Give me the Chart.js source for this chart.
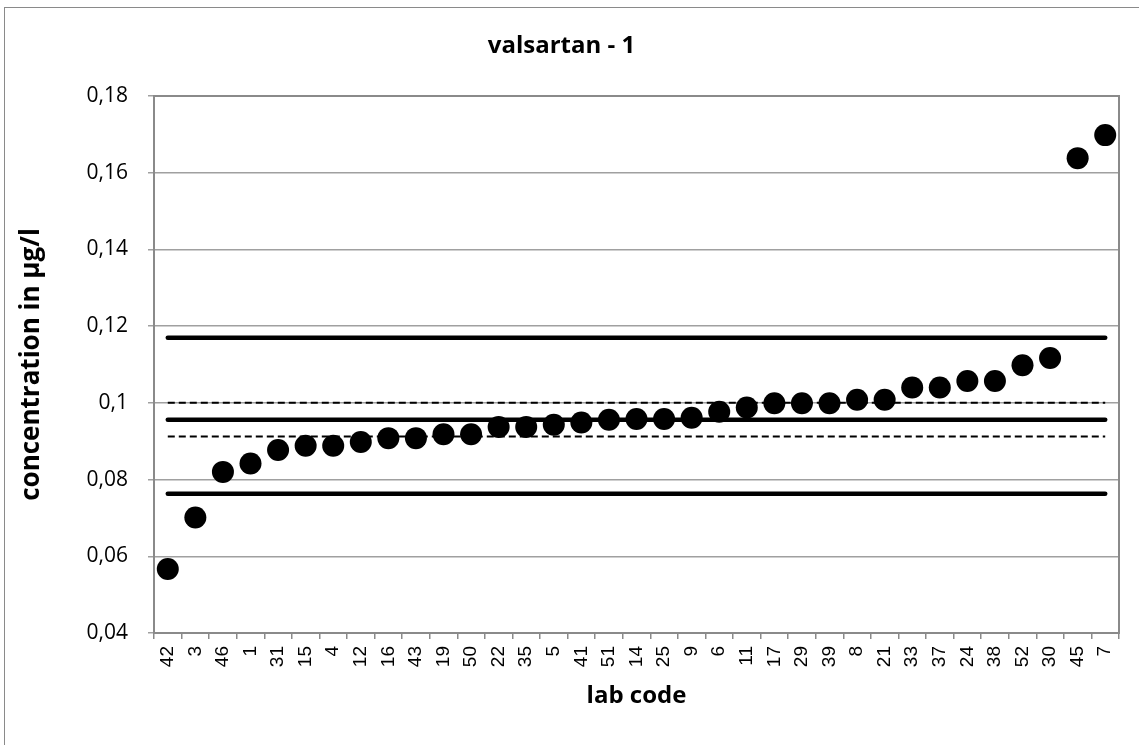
<!DOCTYPE html>
<html>
<head>
<meta charset="utf-8">
<script src="https://cdn.jsdelivr.net/npm/chart.js@4/dist/chart.umd.min.js"></script>
<style>
  html, body { margin: 0; padding: 0; background: #fff; }
  #wrap { position: relative; width: 1139px; height: 745px; overflow: hidden; }
  #frame { position: absolute; left: 4px; top: 7px; width: 1200px; height: 800px; border: 1.5px solid #8a8a8a; box-sizing: border-box; }
  canvas { position: absolute; left: 0; top: 0; }
</style>
</head>
<body>
<div id="wrap">
  <div id="frame"></div>
  <canvas id="c" width="1139" height="745"></canvas>
</div>
<script>
// ---- data ----
const labCodes = ['42','3','46','1','31','15','4','12','16','43','19','50','22','35','5','41','51','14','25','9','6','11','17','29','39','8','21','33','37','24','38','52','30','45','7'];
const concentrations = [0.0567,0.0701,0.0820,0.0842,0.0877,0.0888,0.0888,0.0898,0.0908,0.0908,0.0918,0.0918,0.0937,0.0937,0.0943,0.0949,0.0956,0.0958,0.0958,0.0961,0.0977,0.0988,0.0999,0.0999,0.0999,0.1008,0.1008,0.1040,0.1040,0.1057,0.1057,0.1098,0.1117,0.1638,0.1698];
const upperLimit = 0.1170;
const assignedValue = 0.0956;
const lowerLimit = 0.0763;
const upperUncertainty = 0.1000;
const lowerUncertainty = 0.0912;
const yTickLabels = ['0,04','0,06','0,08','0,1','0,12','0,14','0,16','0,18'];
const chartTitle = 'valsartan - 1';
const xTitle = 'lab code';
const yTitle = 'concentration in µg/l';

const flat = v => labCodes.map(() => v);

const frameBox = {
  id: 'frameBox',
  beforeDatasetsDraw(chart) {
    const a = chart.chartArea, ctx = chart.ctx;
    ctx.save();
    ctx.strokeStyle = '#8a8a8a';
    ctx.lineWidth = 2;
    ctx.strokeRect(a.left, a.top, a.right - a.left, a.bottom - a.top);
    ctx.restore();
  }
};

const solid = (v) => ({
  type: 'line', data: flat(v), borderColor: '#000', borderWidth: 4.5,
  borderCapStyle: 'round', pointRadius: 0, pointHoverRadius: 0, fill: false, tension: 0
});
const dashed = (v) => ({
  type: 'line', data: flat(v), borderColor: '#000', borderWidth: 2,
  borderDash: [7, 4], pointRadius: 0, pointHoverRadius: 0, fill: false, tension: 0
});

new Chart(document.getElementById('c'), {
  type: 'line',
  data: {
    labels: labCodes,
    datasets: [
      { data: concentrations, showLine: false, pointRadius: 11, pointHoverRadius: 11,
        pointBackgroundColor: '#000', pointBorderWidth: 0, borderColor: '#000' },
      solid(upperLimit),
      solid(assignedValue),
      solid(lowerLimit),
      dashed(upperUncertainty),
      dashed(lowerUncertainty)
    ]
  },
  plugins: [frameBox],
  options: {
    responsive: false,
    animation: false,
    events: [],
    layout: { padding: { left: 4, right: 20, top: 0, bottom: 0 } },
    plugins: {
      legend: { display: false },
      tooltip: { enabled: false },
      title: {
        display: true, text: chartTitle, color: '#000',
        font: { family: 'Open Sans', size: 24, weight: 'bold', lineHeight: 1.2 },
        padding: { top: 32, bottom: 35.2 }
      }
    },
    scales: {
      x: {
        type: 'category', offset: true,
        border: { display: true, color: '#8a8a8a', width: 2 },
        grid: { offset: true, drawOnChartArea: false, drawTicks: true, tickLength: 6, color: '#8a8a8a', lineWidth: 1.5 },
        ticks: { color: '#000', minRotation: 90, maxRotation: 90, autoSkip: false, padding: 7,
          font: { family: 'Liberation Sans', size: 19 } },
        title: { display: true, text: xTitle, color: '#000',
          font: { family: 'Open Sans', size: 24, weight: 'bold', lineHeight: 1.2 },
          padding: { top: 0, bottom: 34 } },
        afterFit(s) { s.height = 112; }
      },
      y: {
        min: 0.04, max: 0.18,
        border: { display: true, color: '#8a8a8a', width: 2 },
        grid: { color: '#a0a0a0', lineWidth: 1.5, tickLength: 6, drawTicks: true },
        ticks: { stepSize: 0.02, color: '#000', padding: 20,
          font: { family: 'Open Sans', size: 21 },
          callback: (v, i) => yTickLabels[i] },
        title: { display: true, text: yTitle, color: '#000',
          font: { family: 'Open Sans', size: 26, weight: 'bold', lineHeight: 1.2 },
          padding: { top: 12, bottom: 0 } },
        afterFit(s) { s.width = 150; }
      }
    }
  }
});
</script>
</body>
</html>
